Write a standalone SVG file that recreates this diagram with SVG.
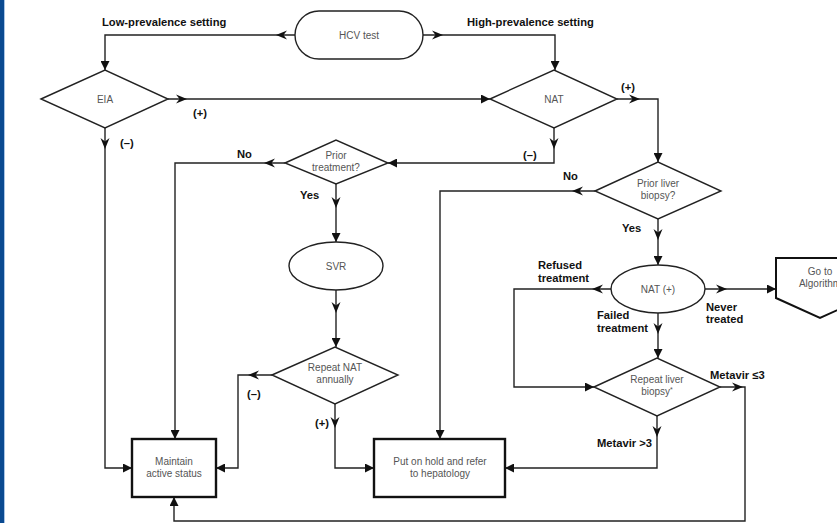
<svg xmlns="http://www.w3.org/2000/svg" xmlns:xlink="http://www.w3.org/1999/xlink" width="837" height="523" viewBox="0 0 837 523">
<style>
.shape{fill:#fff;stroke:#222;stroke-width:1.4}
.box{fill:#fff;stroke:#111;stroke-width:2.4}
.t{font-family:"Liberation Sans",Arial,sans-serif;font-size:10px;fill:#555;text-anchor:middle}
.lbl{font-family:"Liberation Sans",Arial,sans-serif;font-size:11.2px;font-weight:bold;fill:#111}
.conn path{fill:none;stroke:#222;stroke-width:1.4;marker-end:url(#arr)}
.chev use{fill:#111}
</style>
<defs>
<marker id="arr" viewBox="0 0 10 10" refX="10" refY="5" markerWidth="10" markerHeight="9" markerUnits="userSpaceOnUse" orient="auto">
<path d="M0,0 L10,5 L0,10 z" fill="#111"/>
</marker>
<path id="chev" d="M-5,-4.5 L6,0 L-5,4.5 L-1.5,0 z"/>
</defs>
<rect x="0" y="0" width="837" height="523" fill="#fff"/>
<rect x="0" y="0" width="4" height="523" fill="#0a4a91"/>
<rect x="4" y="0" width="1" height="523" fill="#a9c5e6"/>

<g class="conn" id="connectors">
<path d="M295,35 H105 V70"/>
<path d="M423,35 H555 V70"/>
<path d="M168,99 H490"/>
<path d="M105,128 V468 H132"/>
<path d="M617,99 H658 V162"/>
<path d="M554,128 V163 H388"/>
<path d="M285,163 H175 V439"/>
<path d="M336,184 V242"/>
<path d="M336,290 V347"/>
<path d="M272,375 H238 V468 H216"/>
<path d="M335,404 V468 H374"/>
<path d="M595,191 H440 V439"/>
<path d="M658,219 V265"/>
<path d="M611,289 H514 V387 H594"/>
<path d="M705,289 H776"/>
<path d="M658,313 V358"/>
<path d="M720,387 H745 V521 H174 V497"/>
<path d="M657,416 V468 H505"/>
<g class="chev">
<use xlink:href="#chev" transform="translate(282,35) rotate(180)"/>
<use xlink:href="#chev" transform="translate(437,35)"/>
<use xlink:href="#chev" transform="translate(181,99)"/>
<use xlink:href="#chev" transform="translate(105,143) rotate(90)"/>
<use xlink:href="#chev" transform="translate(634,99)"/>
<use xlink:href="#chev" transform="translate(554,143) rotate(90)"/>
<use xlink:href="#chev" transform="translate(270,163) rotate(180)"/>
<use xlink:href="#chev" transform="translate(336,202) rotate(90)"/>
<use xlink:href="#chev" transform="translate(336,307) rotate(90)"/>
<use xlink:href="#chev" transform="translate(254,375) rotate(180)"/>
<use xlink:href="#chev" transform="translate(335,422) rotate(90)"/>
<use xlink:href="#chev" transform="translate(578,191) rotate(180)"/>
<use xlink:href="#chev" transform="translate(658,234) rotate(90)"/>
<use xlink:href="#chev" transform="translate(598,289) rotate(180)"/>
<use xlink:href="#chev" transform="translate(721,289)"/>
<use xlink:href="#chev" transform="translate(658,328) rotate(90)"/>
<use xlink:href="#chev" transform="translate(737,387)"/>
<use xlink:href="#chev" transform="translate(657,431) rotate(90)"/>
</g>
</g>

<g id="labels">
<text class="lbl" x="102" y="26">Low-prevalence setting</text>
<text class="lbl" x="467" y="26">High-prevalence setting</text>
<text class="lbl" x="193" y="117">(+)</text>
<text class="lbl" x="120" y="147">(–)</text>
<text class="lbl" x="237" y="158">No</text>
<text class="lbl" x="621" y="91">(+)</text>
<text class="lbl" x="523" y="159">(–)</text>
<text class="lbl" x="563" y="180">No</text>
<text class="lbl" x="300" y="199">Yes</text>
<text class="lbl" x="622" y="232">Yes</text>
<text class="lbl" x="538" y="269">Refused</text>
<text class="lbl" x="538" y="282">treatment</text>
<text class="lbl" x="706" y="311">Never</text>
<text class="lbl" x="706" y="323">treated</text>
<text class="lbl" x="597" y="319">Failed</text>
<text class="lbl" x="597" y="332">treatment</text>
<text class="lbl" x="710" y="379">Metavir ≤3</text>
<text class="lbl" x="597" y="447">Metavir &gt;3</text>
<text class="lbl" x="247" y="398">(–)</text>
<text class="lbl" x="315" y="427">(+)</text>
</g>

<g id="hcv">
<rect class="shape" x="295" y="11" width="128" height="48" rx="24" ry="24"/>
<text class="t" x="359" y="38.5">HCV test</text>
</g>
<g id="eia">
<polygon class="shape" points="41,99 105,70 168,99 105,128"/>
<text class="t" x="105" y="102.5">EIA</text>
</g>
<g id="nat">
<polygon class="shape" points="490,99 554,70 617,99 554,128"/>
<text class="t" x="554" y="102.5">NAT</text>
</g>
<g id="prior-treatment">
<polygon class="shape" points="285,163 336,140 388,163 336,184"/>
<text class="t" x="336" y="159">Prior</text>
<text class="t" x="336" y="171">treatment?</text>
</g>
<g id="prior-liver-biopsy">
<polygon class="shape" points="595,191 658,162 721,191 658,219"/>
<text class="t" x="658" y="187">Prior liver</text>
<text class="t" x="658" y="199">biopsy?</text>
</g>
<g id="svr">
<ellipse class="shape" cx="336" cy="266" rx="47" ry="24"/>
<text class="t" x="336" y="269.5">SVR</text>
</g>
<g id="repeat-nat">
<polygon class="shape" points="272,375 335,347 398,375 335,404"/>
<text class="t" x="335" y="371">Repeat NAT</text>
<text class="t" x="335" y="383">annually</text>
</g>
<g id="nat-pos">
<ellipse class="shape" cx="658" cy="289" rx="47" ry="24"/>
<text class="t" x="658" y="292.5">NAT (+)</text>
</g>
<g id="repeat-liver-biopsy">
<polygon class="shape" points="594,387 657,358 720,387 657,416"/>
<text class="t" x="657" y="383">Repeat liver</text>
<text class="t" x="657" y="395">biopsy<tspan font-size="7" dy="-3">*</tspan></text>
</g>
<g id="go-to">
<polygon class="box" points="776,258 864,258 864,298 820,318 776,298" style="stroke-width:2"/>
<text class="t" x="820" y="275">Go to</text>
<text class="t" x="820" y="287">Algorithm</text>
</g>
<g id="maintain">
<rect class="box" x="132" y="439" width="84" height="58"/>
<text class="t" x="174" y="465">Maintain</text>
<text class="t" x="174" y="477">active status</text>
</g>
<g id="hold">
<rect class="box" x="374" y="439" width="131" height="58"/>
<text class="t" x="440" y="465">Put on hold and refer</text>
<text class="t" x="440" y="477">to hepatology</text>
</g>
</svg>
